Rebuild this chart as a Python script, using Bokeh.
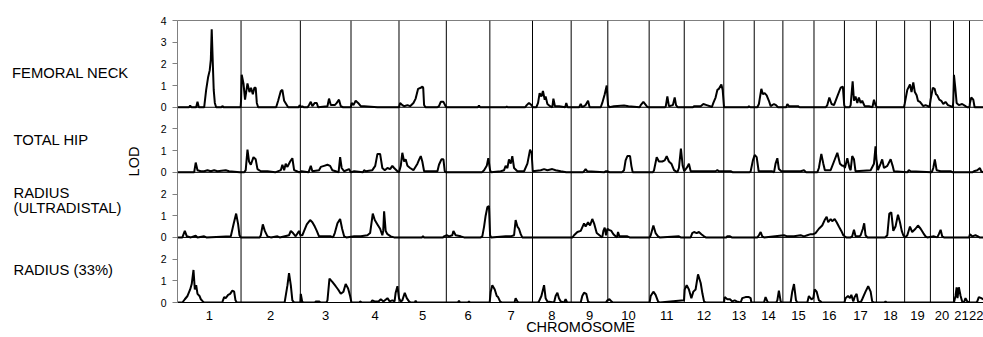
import math
from bokeh.plotting import figure
from bokeh.models import Span, FixedTicker, Range1d
from bokeh.layouts import row
from bokeh.core.properties import value
from bokeh.embed import file_html
from bokeh.resources import INLINE
import numpy as np

# ---------------- data ----------------
chromosomes = [str(i) for i in range(1, 23)]
chrom_len_cm = [286, 267, 228, 216, 213, 196, 192, 174, 165, 186, 158,
                178, 137, 129, 140, 137, 144, 127, 116, 104, 72, 63]

panel_names = ["FEMORAL NECK", "TOTAL HIP", "RADIUS\n(ULTRADISTAL)", "RADIUS (33%)"]
panel_max = [4, 3, 3, 3]          # LOD span of each panel

# genome position (cumulative cM), LOD
femoral_neck = [
    (0, 0), (52, 0), (57, 0.08), (63, 0), (84, 0), (90, 0.25), (96, 0), (120, 0), (129, 0.8), (138, 1.4),
    (145, 1.7), (150, 2.2), (154, 3.6), (159, 2.0), (163, 0.8), (168, 0.2), (174, 0), (198, 0), (202, 0.06), (207, 0),
    (284, 0), (286, 0.3), (289, 1.5), (297, 1.1), (304, 0.35), (315, 1.1), (324, 0.7), (331, 0.9), (339, 0.6),
    (346, 0.9), (352, 0.9), (357, 0.2), (363, 0), (444, 0), (453, 0.3), (465, 0.75), (472, 0.8), (480, 0.3),
    (489, 0.15), (498, 0), (545, 0), (550, 0.1), (556, 0), (562, 0.05), (568, 0),
    (586, 0), (592, 0.1), (600, 0.25), (607, 0.05), (618, 0.2), (627, 0.2), (633, 0), (675, 0.05), (682, 0.4),
    (690, 0.1), (708, 0.1), (717, 0.2), (727, 0.35), (735, 0.05), (745, 0),
    (780, 0), (784, 0.2), (792, 0.1), (802, 0.3), (813, 0.2), (825, 0.05), (840, 0.05), (900, 0),
    (997, 0), (1002, 0.2), (1012, 0.1), (1020, 0.05), (1035, 0.1), (1047, 0.05), (1062, 0.2), (1072, 0.4),
    (1083, 0.85), (1095, 0.9), (1102, 0.95), (1106, 0.9), (1110, 0.1), (1116, 0),
    (1170, 0), (1177, 0.05), (1185, 0.25), (1197, 0.25), (1207, 0.05), (1212, 0),
    (1352, 0), (1357, 0.08), (1362, 0), (1478, 0), (1482, 0.03), (1486, 0), (1565, 0), (1572, 0.1), (1582, 0.2),
    (1593, 0.1), (1600, 0), (1615, 0), (1623, 0.2), (1630, 0.65), (1638, 0.5), (1645, 0.75), (1653, 0.35),
    (1657, 0.5), (1665, 0.15), (1677, 0.05), (1687, 0), (1692, 0.4), (1699, 0.05), (1718, 0.05), (1745, 0),
    (1750, 0.2), (1756, 0), (1808, 0), (1815, 0.15), (1822, 0), (1837, 0.1), (1848, 0.3), (1855, 0), (1905, 0),
    (1912, 0.2), (1923, 0.6), (1932, 1.0), (1938, 0.1), (1944, 0),
    (1965, 0.05), (2010, 0.08), (2030, 0.05), (2080, 0), (2085, 0.1), (2097, 0.25), (2112, 0.05), (2118, 0),
    (2195, 0), (2198, 0.05), (2205, 0.5), (2212, 0.05), (2230, 0.1), (2238, 0.45), (2244, 0.1), (2252, 0),
    (2320, 0), (2325, 0.05), (2355, 0.05), (2367, 0.15), (2382, 0.1), (2397, 0.05), (2405, 0), (2412, 0.2),
    (2422, 0.45), (2430, 0.8), (2437, 0.85), (2448, 1.05), (2454, 0.8), (2460, 0),
    (2568, 0), (2572, 0.05), (2578, 0), (2610, 0), (2617, 0.15), (2628, 0.85), (2635, 0.6), (2643, 0.65),
    (2652, 0.55), (2662, 0.3), (2670, 0.05), (2685, 0.15), (2694, 0.1), (2703, 0),
    (2740, 0), (2745, 0.15), (2752, 0.05), (2775, 0.05), (2793, 0.05), (2800, 0),
    (2918, 0), (2925, 0.1), (2934, 0.45), (2944, 0.15), (2955, 0.1), (2970, 0.5), (2985, 0.9), (2995, 0.95),
    (3001, 0.1), (3005, 0), (3025, 0), (3030, 0.1), (3039, 1.2), (3045, 0.3), (3052, 0.5), (3060, 0.2),
    (3067, 0.45), (3075, 0.2), (3082, 0.3), (3093, 0.05), (3112, 0.05), (3128, 0), (3135, 0.35), (3142, 0.1),
    (3148, 0), (3270, 0), (3273, 0.15), (3285, 0.8), (3297, 1.05), (3304, 0.7), (3312, 1.15), (3319, 0.7),
    (3327, 0.55), (3333, 0.3), (3342, 0.25), (3357, 0.05), (3367, 0.1), (3378, 0.05), (3385, 0),
    (3390, 0.35), (3400, 0.9), (3408, 0.85), (3414, 0.6), (3420, 0.55), (3429, 0.35), (3438, 0.3), (3447, 0.15),
    (3457, 0.25), (3468, 0.1), (3480, 0.05), (3490, 0), (3492, 0.3), (3495, 1.5), (3501, 0.9), (3507, 0.2),
    (3517, 0.1), (3532, 0.15), (3547, 0.05), (3555, 0), (3565, 0), (3567, 0.2), (3573, 0.45), (3582, 0.35),
    (3588, 0), (3627, 0),
]

total_hip = [
    (0, 0), (75, 0), (82, 0.45), (90, 0.1), (105, 0.05), (120, 0.05), (135, 0.1), (150, 0.05), (165, 0.1),
    (180, 0.05), (217, 0.1), (232, 0.05), (280, 0), (300, 0), (307, 0.1), (315, 1.05), (322, 0.5), (330, 0.35),
    (342, 0.7), (352, 0.6), (360, 0.15), (375, 0.05), (405, 0.05), (440, 0), (465, 0.1), (472, 0.35), (480, 0.1),
    (487, 0.4), (495, 0.25), (507, 0.5), (517, 0.65), (525, 0.1), (537, 0.05), (548, 0),
    (558, 0.05), (590, 0), (600, 0.3), (607, 0.05), (637, 0.1), (645, 0.25), (660, 0.3), (675, 0.35), (687, 0.3),
    (697, 0.1), (712, 0.05), (725, 0), (732, 0.7), (739, 0.2), (750, 0.05), (772, 0.15), (780, 0),
    (795, 0.05), (835, 0), (840, 0.1), (847, 0.05), (877, 0.1), (890, 0.3), (900, 0.85), (912, 0.85), (922, 0.2),
    (933, 0.1), (945, 0.2), (957, 0.15), (967, 0.3), (975, 0.2), (990, 0.05), (997, 0),
    (1005, 0.3), (1012, 0.9), (1020, 0.5), (1027, 0.6), (1035, 0.3), (1047, 0.2), (1062, 0.1), (1080, 0.4),
    (1088, 0.6), (1095, 0.75), (1102, 0.5), (1110, 0.05), (1170, 0.05), (1177, 0.35), (1188, 0.6), (1197, 0.6),
    (1203, 0.05), (1210, 0), (1370, 0), (1380, 0.1), (1392, 0.3), (1399, 0.65), (1407, 0.1), (1412, 0),
    (1455, 0.05), (1470, 0.1), (1477, 0.3), (1485, 0.2), (1492, 0.6), (1500, 0.4), (1507, 0.75), (1515, 0.2),
    (1530, 0.05), (1560, 0.05), (1575, 0.4), (1587, 1.05), (1594, 0.9), (1599, 0.05),
    (1635, 0.1), (1650, 0.15), (1665, 0.1), (1687, 0.15), (1702, 0.1), (1725, 0.05), (1750, 0),
    (1825, 0), (1830, 0.05), (1837, 0.15), (1845, 0.05), (1920, 0), (1927, 0.05), (1935, 0.05), (1945, 0),
    (2000, 0), (2010, 0.1), (2017, 0.55), (2025, 0.75), (2037, 0.75), (2043, 0.3), (2049, 0),
    (2140, 0), (2145, 0.1), (2157, 0.7), (2167, 0.5), (2182, 0.5), (2193, 0.55), (2202, 0.75), (2212, 0.5),
    (2223, 0.4), (2235, 0.1), (2250, 0), (2257, 0.2), (2266, 1.1), (2274, 0.3), (2281, 0.05),
    (2295, 0.25), (2302, 0.4), (2310, 0.05), (2370, 0.05), (2422, 0.05), (2430, 0.1), (2437, 0.05), (2490, 0.05),
    (2500, 0), (2575, 0), (2580, 0.05), (2590, 0.55), (2598, 0.8), (2607, 0.7), (2616, 0.05), (2677, 0.05),
    (2685, 0), (2692, 0.4), (2700, 0.65), (2707, 0.15), (2718, 0.05), (2730, 0.05),
    (2790, 0.05), (2805, 0.05), (2820, 0.1), (2830, 0), (2880, 0), (2887, 0.2), (2898, 0.85), (2907, 0.4),
    (2914, 0.1), (2940, 0.1), (2955, 0.5), (2970, 0.9), (2982, 0.4), (2992, 0.3), (3000, 0.3), (3004, 0.2),
    (3015, 0.65), (3025, 0.2), (3030, 0.1), (3037, 0.75), (3045, 0.6), (3052, 0.05),
    (3120, 0.1), (3135, 0.4), (3142, 1.2), (3146, 0.6), (3153, 0.1), (3165, 0.4), (3172, 0.6), (3180, 0.2),
    (3195, 0.3), (3210, 0.6), (3219, 0.3), (3225, 0.05), (3285, 0), (3292, 0.1), (3300, 0.05), (3395, 0),
    (3402, 0.2), (3409, 0.6), (3417, 0.1), (3435, 0.05), (3457, 0.05), (3480, 0.05), (3490, 0),
    (3578, 0), (3585, 0.05), (3600, 0.1), (3612, 0.2), (3618, 0.05), (3627, 0),
]

radius_ultradistal = [
    (0, 0), (22, 0), (33, 0.3), (42, 0.05), (60, 0), (82, 0.08), (90, 0), (120, 0.05), (130, 0), (240, 0.05),
    (252, 0.6), (264, 1.1), (273, 0.6), (279, 0.1), (285, 0), (370, 0), (375, 0.1), (384, 0.6), (393, 0.3),
    (405, 0.05), (420, 0), (450, 0.05), (460, 0), (502, 0.1), (510, 0.3), (520, 0.2), (532, 0.05), (547, 0.3),
    (553, 0.1), (562, 0.1), (570, 0.3), (582, 0.6), (597, 0.8), (607, 0.7), (618, 0.5), (627, 0.3), (637, 0.05),
    (690, 0.05), (700, 0), (708, 0.2), (720, 0.65), (732, 0.85), (741, 0.4), (750, 0.05), (760, 0),
    (795, 0.05), (825, 0.05), (855, 0.1), (867, 0.2), (879, 1.1), (888, 0.8), (900, 0.6), (912, 0.4), (922, 0.1),
    (926, 0.3), (930, 1.2), (937, 0.3), (945, 0.15), (960, 0.05), (975, 0), (1100, 0), (1105, 0.05), (1110, 0),
    (1195, 0), (1200, 0.05), (1212, 0.1), (1222, 0.05), (1237, 0.1), (1242, 0.3), (1252, 0.1), (1275, 0.05),
    (1290, 0), (1365, 0), (1372, 0.05), (1380, 0.5), (1387, 1.0), (1395, 1.4), (1402, 1.45), (1407, 0.1),
    (1412, 0), (1477, 0.05), (1500, 0.05), (1515, 0.1), (1522, 0.8), (1530, 0.5), (1537, 0.4), (1545, 0.15),
    (1552, 0), (1778, 0), (1785, 0.1), (1800, 0.25), (1815, 0.3), (1830, 0.65), (1837, 0.5), (1848, 0.7),
    (1857, 0.55), (1867, 0.85), (1875, 0.65), (1887, 0.2), (1905, 0.05), (1912, 0), (1917, 0.3), (1923, 0.45),
    (1929, 0.1), (1935, 0.4), (1942, 0.35), (1953, 0.3), (1962, 0.15), (1972, 0.05), (1978, 0), (1983, 0.25),
    (1989, 0.05), (2025, 0.05), (2035, 0), (2125, 0), (2130, 0.1), (2142, 0.55), (2152, 0.2), (2163, 0.05),
    (2170, 0), (2257, 0.05), (2265, 0), (2310, 0), (2317, 0.2), (2325, 0.25), (2337, 0.2), (2347, 0.25),
    (2358, 0.15), (2370, 0.05), (2378, 0), (2470, 0), (2475, 0.05), (2487, 0.05), (2495, 0), (2610, 0),
    (2617, 0.1), (2625, 0.25), (2632, 0.05), (2640, 0), (2730, 0.1), (2745, 0.05), (2775, 0.05), (2805, 0.1),
    (2820, 0.05), (2835, 0.1), (2850, 0.15), (2862, 0.15), (2872, 0.2), (2887, 0.4), (2902, 0.55), (2913, 0.8),
    (2922, 0.95), (2929, 0.7), (2940, 0.85), (2947, 0.75), (2958, 0.85), (2967, 0.7), (2977, 0.5), (2988, 0.3),
    (2997, 0.1), (3003, 0.05), (3010, 0), (3030, 0), (3037, 0.05), (3045, 0.35), (3052, 0.05), (3070, 0.05),
    (3075, 0.1), (3085, 0.4), (3091, 0.65), (3097, 0.1), (3105, 0), (3185, 0), (3195, 0.1), (3204, 1.1),
    (3213, 1.15), (3222, 0.3), (3232, 0.5), (3243, 1.05), (3252, 0.7), (3260, 0.3), (3267, 0.1), (3275, 0),
    (3285, 0.1), (3297, 0.5), (3307, 0.25), (3322, 0.4), (3333, 0.55), (3345, 0.4), (3357, 0.2), (3367, 0.05),
    (3375, 0), (3405, 0.05), (3420, 0), (3427, 0.15), (3435, 0.35), (3442, 0.05), (3450, 0),
    (3563, 0), (3567, 0.15), (3577, 0.05), (3592, 0.1), (3603, 0.05), (3610, 0), (3627, 0),
]

radius_33 = [
    (0, 0), (22, 0), (33, 0.15), (45, 0.3), (57, 0.6), (64, 0.85), (72, 1.5), (78, 0.6), (84, 0.8), (90, 0.4),
    (99, 0.3), (105, 0.15), (114, 0.05), (120, 0), (200, 0), (203, 0.05), (210, 0.25), (217, 0.2), (228, 0.35),
    (237, 0.4), (247, 0.55), (255, 0.5), (261, 0.1), (267, 0), (480, 0), (483, 0.05), (495, 0.8), (502, 1.35),
    (510, 0.8), (517, 0.1), (525, 0), (553, 0), (555, 0.4), (561, 0.05), (567, 0), (620, 0), (622, 0.05),
    (637, 0.05), (645, 0), (670, 0), (675, 0.1), (684, 1.1), (697, 0.95), (712, 0.75), (723, 0.6), (735, 0.4),
    (747, 0.5), (757, 0.85), (768, 0.65), (777, 0.3), (783, 0), (820, 0), (822, 0.05), (830, 0), (870, 0),
    (877, 0.1), (887, 0.05), (905, 0.05), (915, 0.15), (927, 0.05), (945, 0.2), (955, 0.05), (967, 0.1),
    (977, 0.05), (982, 0.45), (990, 0.75), (997, 0.2), (1005, 0.05), (1012, 0.1), (1023, 0.45), (1032, 0.2),
    (1042, 0.05), (1050, 0), (1068, 0), (1072, 0.08), (1077, 0), (1262, 0), (1267, 0.08), (1272, 0), (1308, 0),
    (1312, 0.05), (1316, 0), (1405, 0), (1410, 0.5), (1417, 0.8), (1428, 0.6), (1437, 0.3), (1443, 0.25),
    (1452, 0.05), (1460, 0), (1517, 0), (1522, 0.2), (1530, 0.05), (1535, 0), (1622, 0), (1627, 0.05),
    (1638, 0.3), (1650, 0.8), (1657, 0.2), (1665, 0.05), (1695, 0), (1702, 0.3), (1710, 0.45), (1717, 0.2),
    (1725, 0.05), (1740, 0), (1747, 0.15), (1754, 0), (1815, 0), (1822, 0.3), (1830, 0.45), (1840, 0.4),
    (1848, 0.05), (1855, 0), (1928, 0), (1935, 0.1), (1944, 0.15), (1953, 0.05), (1960, 0), (2125, 0),
    (2130, 0.3), (2142, 0.5), (2152, 0.35), (2163, 0.05), (2170, 0), (2280, 0.1), (2283, 0.6), (2292, 0.8),
    (2302, 0.6), (2313, 0.2), (2322, 0.5), (2332, 0.6), (2343, 1.3), (2355, 0.9), (2363, 0.4), (2370, 0.05),
    (2378, 0), (2460, 0), (2463, 0.25), (2475, 0.15), (2487, 0.15), (2497, 0.05), (2508, 0.1), (2517, 0.05),
    (2535, 0), (2542, 0.2), (2557, 0.25), (2572, 0.25), (2580, 0.2), (2583, 0), (2640, 0), (2647, 0.25),
    (2655, 0.05), (2660, 0), (2695, 0), (2700, 0.1), (2707, 0.55), (2715, 0.05), (2720, 0), (2760, 0),
    (2767, 0.5), (2775, 0.85), (2784, 0.1), (2790, 0), (2835, 0), (2842, 0.3), (2853, 0.15), (2862, 0.2),
    (2868, 0.6), (2877, 0.5), (2887, 0.1), (2895, 0.05), (2900, 0), (3002, 0), (3007, 0.2), (3018, 0.3),
    (3027, 0.2), (3033, 0.35), (3042, 0.05), (3048, 0.25), (3057, 0.4), (3063, 0.05), (3075, 0), (3082, 0.15),
    (3097, 0.5), (3109, 0.75), (3120, 0.5), (3127, 0.05), (3135, 0), (3182, 0), (3187, 0.05), (3192, 0),
    (3495, 0), (3502, 0.3), (3507, 0.7), (3511, 0.2), (3517, 0.7), (3525, 0.3), (3532, 0.05), (3540, 0),
    (3547, 0.2), (3555, 0.05), (3565, 0), (3595, 0), (3600, 0.05), (3607, 0.25), (3618, 0.2), (3627, 0.15),
]

panel_series = [femoral_neck, total_hip, radius_ultradistal, radius_33]

# ---------------- layout helpers ----------------
lens = np.array(chrom_len_cm, dtype=float)
ends = np.cumsum(lens)
starts = ends - lens
total = float(ends[-1])
centers = (starts + ends) / 2.0

# panels stacked from bottom: radius 33% at 0, ultradistal at 3, total hip at 6, femoral neck at 9
offsets = []
acc = 0
for m in reversed(panel_max):
    offsets.insert(0, acc)
    acc += m
ytop = acc

FONT = "Liberation Sans"
LEFT_W = 150
TOTAL_W, TOTAL_H = 983, 337
TOP_B, BOT_B = 20, 35

# ---------------- left strip: panel names and LOD title ----------------
side = figure(width=LEFT_W, height=TOTAL_H, x_range=Range1d(0, LEFT_W), y_range=Range1d(0, ytop),
              x_axis_type=None, y_axis_type=None, output_backend="svg", toolbar_location=None,
              min_border_left=0, min_border_right=0, min_border_top=TOP_B, min_border_bottom=BOT_B)
side.grid.visible = False
side.outline_line_color = None

label_y = [10.58, 7.49, 4.72, 1.52]
txt_x, txt_y, txt = [], [], []
for name, yy in zip(panel_names, label_y):
    lines = name.split("\n")
    n = len(lines)
    for i, ln in enumerate(lines):
        txt_x.append(11.5 if name.startswith("FEM") else 13)
        txt_y.append(yy + (n - 1) / 2.0 * 0.69 - i * 0.69)
        txt.append(ln)
side.text(x=txt_x, y=txt_y, text=txt, text_font=value(FONT), text_font_size=value("14.8px"),
          text_baseline="middle", text_align="left", text_color="black")
side.text(x=[133], y=[ytop / 2.0], text=["LOD"], angle=math.pi / 2, text_font=value(FONT),
          text_font_size=value("14.5px"), text_baseline="middle", text_align="center", text_color="black")

# ---------------- main plot ----------------
p = figure(width=TOTAL_W - LEFT_W, height=TOTAL_H, x_range=Range1d(0, total), y_range=Range1d(0, ytop),
           output_backend="svg", toolbar_location=None,
           min_border_left=177 - LEFT_W, min_border_right=0, min_border_top=TOP_B, min_border_bottom=BOT_B)
p.grid.visible = False
p.outline_line_color = None
p.background_fill_color = "white"

for b in starts[1:]:
    p.add_layout(Span(location=float(b), dimension="height", line_color="black", line_width=1))
p.add_layout(Span(location=ytop, dimension="width", line_color="black", line_width=1))
for off in offsets[:-1]:
    p.add_layout(Span(location=off, dimension="width", line_color="black", line_width=1))

for data, off in zip(panel_series, offsets):
    d = sorted(data)
    xs = [a for a, _ in d]
    ys = [b + off for _, b in d]
    p.line(xs, ys, line_color="black", line_width=2)

yticks = []
ylabels = {}
for m, off in zip(panel_max, offsets):
    top_lab = m if m == 4 else m - 1
    for v in range(0, top_lab + 1):
        yticks.append(off + v)
        ylabels[off + v] = str(v)
p.yaxis.ticker = FixedTicker(ticks=sorted(set(yticks)))
p.yaxis.major_label_overrides = ylabels
p.yaxis.minor_tick_line_color = None
p.yaxis.major_tick_in = 0
p.yaxis.major_tick_out = 5
p.yaxis.major_tick_line_color = "#808080"
p.yaxis.axis_line_color = "#808080"
p.yaxis.major_label_text_font = FONT
p.yaxis.major_label_text_font_size = "10.5px"
p.yaxis.major_label_text_color = "black"
p.yaxis.major_label_standoff = 6

p.xaxis.ticker = FixedTicker(ticks=[float(c) for c in centers])
p.xaxis.major_label_overrides = {float(c): n for c, n in zip(centers, chromosomes)}
p.xaxis.minor_tick_line_color = None
p.xaxis.major_tick_line_color = None
p.xaxis.major_tick_in = 0
p.xaxis.major_tick_out = 0
p.xaxis.axis_line_color = "black"
p.xaxis.axis_line_width = 1
p.xaxis.major_label_text_font = FONT
p.xaxis.major_label_text_font_size = "13px"
p.xaxis.major_label_text_color = "black"
p.xaxis.major_label_standoff = 8
p.xaxis.axis_label = "CHROMOSOME"
p.xaxis.axis_label_text_font = FONT
p.xaxis.axis_label_text_font_size = "14.5px"
p.xaxis.axis_label_text_color = "black"
p.xaxis.axis_label_text_font_style = "normal"
p.xaxis.axis_label_standoff = -4

layout = row(side, p, spacing=0)
open("out.html", "w").write(file_html(layout, INLINE))
